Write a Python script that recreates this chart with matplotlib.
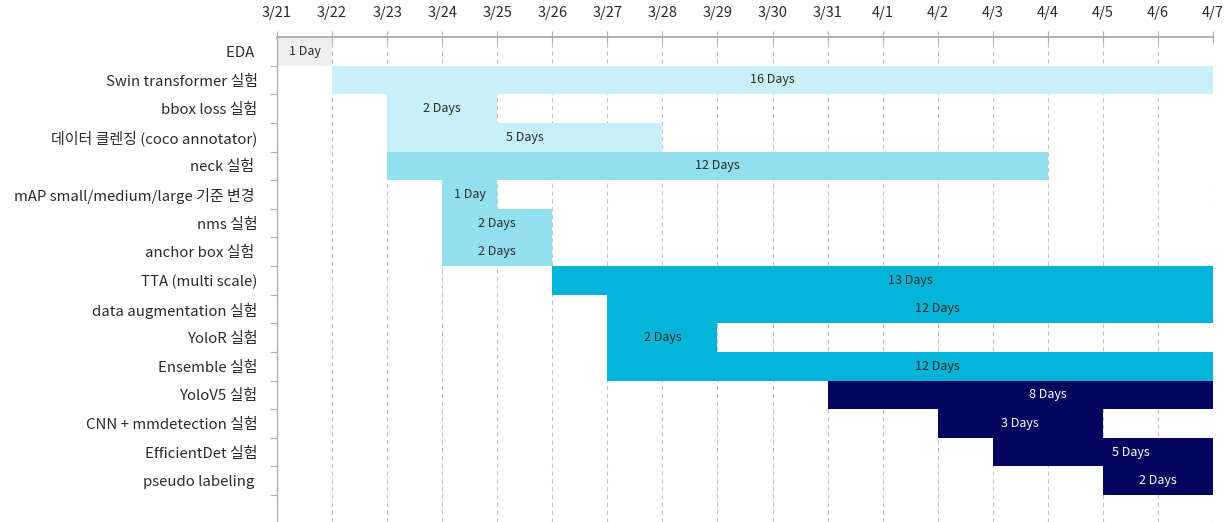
import datetime as dt
import matplotlib
matplotlib.use("Agg")
import matplotlib.pyplot as plt
from matplotlib.ticker import FixedLocator

plt.rcParams['font.family'] = ['Noto Sans CJK KR', 'DejaVu Sans']

# Schedule data
tasks = [
    "EDA ", "Swin transformer 실험", "bbox loss 실험", "데이터 클렌징 (coco annotator)",
    "neck 실험 ", "mAP small/medium/large 기준 변경 ", "nms 실험", "anchor box 실험 ",
    "TTA (multi scale)", "data augmentation 실험", "YoloR 실험", "Ensemble 실험",
    "YoloV5 실험", "CNN + mmdetection 실험", "EfficientDet 실험", "pseudo labeling ",
]
start_dates = ["3/21", "3/22", "3/23", "3/23", "3/23", "3/24", "3/24", "3/24",
               "3/26", "3/27", "3/27", "3/27", "3/31", "4/2", "4/3", "4/5"]
durations = [1, 16, 2, 5, 12, 1, 2, 2, 13, 12, 2, 12, 8, 3, 5, 2]
phases = [0, 1, 1, 1, 2, 2, 2, 2, 3, 3, 3, 3, 4, 4, 4, 4]

phase_colors = ["#efefef", "#c9eff8", "#92dfee", "#04b4d8", "#03065e"]
phase_text = ["#2b2b2b", "#2b2b2b", "#2b2b2b", "#2b2b2b", "#ffffff"]

year = 2022
def to_date(s):
    m, d = s.split("/")
    return dt.date(year, int(m), int(d))

day0 = to_date("3/21")
day_end = to_date("4/7")
n_days = (day_end - day0).days
axis_dates = [day0 + dt.timedelta(days=i) for i in range(n_days + 1)]
date_labels = [f"{d.month}/{d.day}" for d in axis_dates]

starts = [(to_date(s) - day0).days for s in start_dates]

fig = plt.figure(figsize=(12.3, 5.22), dpi=100)
ax = fig.add_axes([277 / 1230, 0.0, (1213 - 277) / 1230, 1 - 37 / 522])

rows = list(range(len(tasks)))
ax.barh(rows, durations, left=starts, height=1.0,
        color=[phase_colors[p] for p in phases], zorder=2)

for r, s, d, p in zip(rows, starts, durations, phases):
    label = f"{d} Day" if d == 1 else f"{d} Days"
    ax.text(s + d / 2, r, label, ha="center", va="center", fontsize=9,
            color=phase_text[p], zorder=3, clip_on=True)

ax.set_xlim(0, n_days)
ax.set_ylim(len(tasks) + 0.44, -0.5)

# Date axis on top
ax.xaxis.tick_top()
ax.set_xticks(range(n_days + 1))
ax.set_xticklabels(date_labels, fontsize=10.5, color="#2b2b2b")
ax.tick_params(axis="x", which="major", direction="inout", length=8, width=0.8,
               color="#b0b0b0", pad=8)
ax.grid(axis="x", color="#c4c4c4", linestyle=(0, (4, 3)), linewidth=0.8)
ax.set_axisbelow(True)

# Task labels with boundary ticks
ax.set_yticks(rows)
ax.set_yticklabels(tasks, fontsize=10.8, color="#2b2b2b")
ax.tick_params(axis="y", which="major", length=0, pad=14)
ax.yaxis.set_minor_locator(FixedLocator([r + 0.5 for r in rows]))
ax.tick_params(axis="y", which="minor", length=5, width=0.8, color="#b0b0b0")

for side in ("right", "bottom"):
    ax.spines[side].set_visible(False)
ax.spines["top"].set_color("#b0b0b0")
ax.spines["top"].set_linewidth(1.4)
ax.spines["left"].set_color("#b0b0b0")
ax.spines["left"].set_linewidth(1.0)

fig.savefig("out.png", dpi=100)
